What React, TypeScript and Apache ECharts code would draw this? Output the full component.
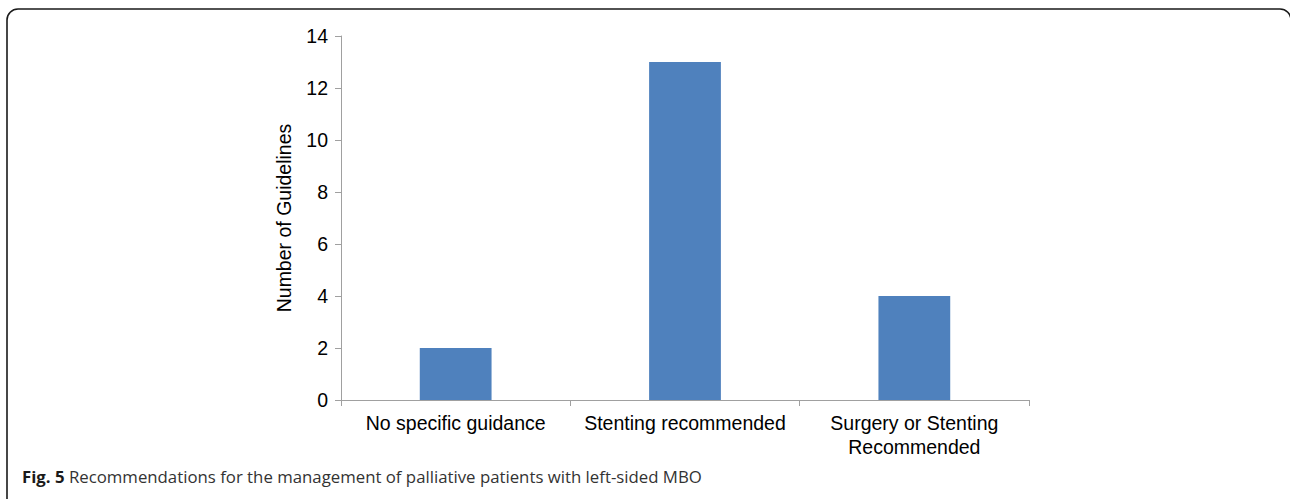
import React, { useEffect, useRef } from "react";
import * as echarts from "echarts";

const categories = ["No specific guidance", "Stenting recommended", "Surgery or Stenting\nRecommended"];
const values = [2, 13, 4];
const yTicks = [0, 2, 4, 6, 8, 10, 12, 14];
const yAxisName = "Number of Guidelines";
const captionBold = "Fig. 5";
const captionText = " Recommendations for the management of palliative patients with left-sided MBO";

export default function App() {
  const ref = useRef<HTMLDivElement>(null);
  useEffect(() => {
    if (!ref.current) return;
    const chart = echarts.init(ref.current, null, { renderer: "svg" });
    const font = "'Liberation Sans', Arial, Helvetica, sans-serif";
    const axisColor = "#a0a0a0";
    chart.setOption({
      animation: false,
      backgroundColor: "#ffffff",
      grid: { left: 341, right: 261, top: 36, bottom: 99, containLabel: false },
      xAxis: {
        type: "category",
        data: categories,
        axisLine: { show: true, lineStyle: { color: axisColor, width: 1 } },
        axisTick: { show: true, length: 6, lineStyle: { color: axisColor } },
        axisLabel: {
          color: "#000",
          fontFamily: font,
          fontSize: 19.5,
          lineHeight: 24,
          margin: 11,
          interval: 0,
        },
      },
      yAxis: {
        type: "value",
        min: yTicks[0],
        max: yTicks[yTicks.length - 1],
        interval: 2,
        name: yAxisName,
        nameLocation: "middle",
        nameRotate: 90,
        nameGap: 47,
        nameTextStyle: { color: "#000", fontFamily: font, fontSize: 19.5 },
        axisLine: { show: true, lineStyle: { color: axisColor, width: 1 } },
        axisTick: { show: true, length: 6, lineStyle: { color: axisColor } },
        splitLine: { show: false },
        axisLabel: { color: "#000", fontFamily: font, fontSize: 19.5, margin: 13 },
      },
      series: [
        {
          type: "bar",
          data: values,
          barWidth: "31.3%",
          itemStyle: { color: "#4f81bd" },
        },
      ],
      graphic: [
        {
          type: "rect",
          shape: { x: 7, y: 9, width: 1284, height: 560, r: 11 },
          style: { fill: "none", stroke: "#1a1a1a", lineWidth: 1.6 },
          silent: true,
        },
        {
          type: "text",
          x: 22,
          y: 476,
          style: {
            text: "{b|" + captionBold + "}{r|" + captionText + "}",
            verticalAlign: "middle",
            rich: {
              b: { fontFamily: "'Open Sans', 'Noto Sans', sans-serif", fontWeight: "bold", fontSize: 16.8, fill: "#1a1a1a" },
              r: { fontFamily: "'Open Sans', 'Noto Sans', sans-serif", fontSize: 16.8, fill: "#333333" },
            },
          },
        },
      ],
    });
    return () => chart.dispose();
  }, []);
  return (
    <div
      ref={ref}
      style={{ position: "fixed", left: 0, top: 0, width: 1290, height: 499, background: "#fff" }}
    />
  );
}
